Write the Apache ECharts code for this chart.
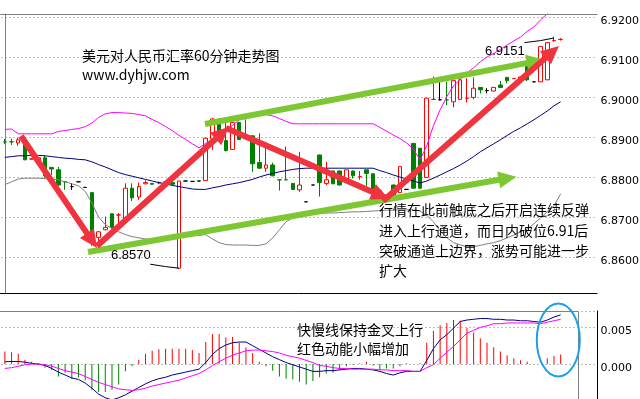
<!DOCTYPE html>
<html><head><meta charset="utf-8">
<script src="https://cdn.jsdelivr.net/npm/echarts@6/dist/echarts.min.js"></script>
<style>html,body{margin:0;padding:0;background:#fff}#c{width:640px;height:399px}</style>
</head><body><div id="c"></div>
<script>
// ---------- data ----------
const slotCount = 89;
const slots = Array.from({length: slotCount}, (_, i) => 'H' + i);

// [open, close, low, high]
const ohlc = [
 [6.8888,6.8888,6.8882,6.8895],[6.8888,6.8888,6.8880,6.8896],[6.8885,6.8893,6.8878,6.8898],[6.8885,6.8843,6.8842,6.8888],
 [6.8845,6.8845,6.8844,6.8846],[6.8843,6.8848,6.8840,6.8850],[6.8848,6.8803,6.8798,6.8855],[6.8824,6.8820,6.8805,6.8825],
 [6.8818,6.8780,6.8778,6.8825],[6.8788,6.8788,6.8768,6.8790],[6.8776,6.8776,6.8768,6.8785],[6.8788,6.8788,6.8788,6.8788],
 [6.8774,6.8774,6.8774,6.8774],[6.8761,6.8648,6.8628,6.8761],[6.8649,6.8663,6.8630,6.8665],[6.8668,6.8674,6.8667,6.8701],
 [6.8708,6.8674,6.8672,6.8709],[6.8705,6.8705,6.8670,6.8710],[6.8688,6.8772,6.8685,6.8784],[6.8772,6.8748,6.8740,6.8784],
 [6.8750,6.8776,6.8743,6.8786],[6.8783,6.8786,6.8782,6.8792],[6.8784,6.8782,6.8781,6.8785],[6.8785,6.8786,6.8782,6.8789],
 [6.8788,6.8780,6.8779,6.8789],[6.8786,6.8782,6.8780,6.8788],[6.8572,6.8790,6.8570,6.8790],[6.8790,6.8790,6.8790,6.8790],
 [6.8789,6.8789,6.8789,6.8789],[6.8790,6.8790,6.8790,6.8790],[6.8791,6.8897,6.8790,6.8898],[6.8895,6.8945,6.8868,6.8948],
 [6.8938,6.8909,6.8905,6.8947],[6.8891,6.8866,6.8864,6.8938],[6.8869,6.8936,6.8868,6.8938],[6.8936,6.8894,6.8893,6.8938],
 [6.8903,6.8903,6.8900,6.8944],[6.8903,6.8833,6.8813,6.8903],[6.8836,6.8822,6.8821,6.8909],[6.8822,6.8830,6.8813,6.8888],
 [6.8830,6.8803,6.8802,6.8836],[6.8793,6.8793,6.8766,6.8793],[6.8793,6.8793,6.8792,6.8876],[6.8784,6.8769,6.8768,6.8785],
 [6.8768,6.8780,6.8763,6.8863],[6.8738,6.8738,6.8738,6.8738],[6.8780,6.8780,6.8780,6.8780],[6.8855,6.8786,6.8751,6.8856],
 [6.8784,6.8793,6.8780,6.8838],[6.8815,6.8783,6.8782,6.8816],[6.8815,6.8780,6.8779,6.8816],[6.8788,6.8818,6.8788,6.8818],
 [6.8815,6.8803,6.8796,6.8816],[6.8801,6.8801,6.8793,6.8815],[6.8818,6.8809,6.8778,6.8818],[6.8808,6.8765,6.8763,6.8809],
 [6.8766,6.8755,6.8754,6.8767],[6.8755,6.8750,6.8745,6.8757],[6.8780,6.8753,6.8751,6.8781],[6.8761,6.8826,6.8760,6.8826],
 [6.8769,6.8769,6.8769,6.8769],[6.8884,6.8772,6.8771,6.8885],[6.8872,6.8772,6.8771,6.8872],[6.8799,6.8997,6.8798,6.8998],
 [6.8994,6.8994,6.8993,6.9051],[6.8993,6.8993,6.8992,6.9038],[6.8993,6.8993,6.8980,6.9038],[6.8988,6.9041,6.8974,6.9041],
 [6.8994,6.9043,6.8993,6.9050],[6.8997,6.8997,6.8986,6.9047],[6.8999,6.9022,6.8994,6.9049],[6.9024,6.9018,6.9009,6.9025],
 [6.9016,6.9016,6.9009,6.9022],[6.9015,6.9024,6.9014,6.9025],[6.9030,6.9024,6.9024,6.9040],[6.9049,6.9041,6.9034,6.9050],
 [6.9046,6.9046,6.9046,6.9046],[6.9045,6.9050,6.9044,6.9052],[6.9076,6.9043,6.9040,6.9078],[6.9038,6.9038,6.9038,6.9038],
 [6.9038,6.9126,6.9038,6.9127],[6.9043,6.9136,6.9042,6.9137],[6.9141,6.9141,6.9138,6.9151],[6.9144,6.9144,6.9141,6.9147]
];
// colour of doji (open == close) candles: g green, r red, k black
const dojiKind = {0:'g',1:'g',4:'r',9:'g',10:'k',11:'k',12:'k',17:'r',27:'k',28:'k',29:'k',36:'r',41:'g',42:'g',
  45:'k',46:'k',53:'r',60:'k',64:'g',65:'k',66:'g',69:'r',72:'k',76:'r',79:'k',82:'r',83:'r'};

const upperBand = [
 6.8919,6.8920,6.8908,6.8908,6.8908,6.8908,6.8908,6.8908,6.8914,6.8916,
 6.8919,6.8921,6.8926,6.8935,6.8949,6.8958,6.8961,6.8961,6.8960,6.8959,
 6.8956,6.8953,6.8944,6.8936,6.8926,6.8916,6.8904,6.8894,6.8883,6.8873,
 6.8884,6.8895,6.8905,6.8915,6.8929,6.8943,6.8953,6.8959,6.8958,6.8956,
 6.8953,6.8946,6.8939,6.8933,6.8933,6.8933,6.8933,6.8933,6.8933,6.8933,
 6.8933,6.8933,6.8933,6.8933,6.8933,6.8933,6.8924,6.8915,6.8905,6.8896,
 6.8885,6.8870,6.8843,6.8878,6.8928,6.8968,6.9001,6.9028,6.9044,6.9060,
 6.9073,6.9088,6.9100,6.9109,6.9119,6.9130,6.9140,6.9150,6.9164,6.9175,
 6.9193,6.9208,6.9223,6.9238];
const middleBand = [
 6.8849,6.8851,6.8853,6.8853,6.8854,6.8854,6.8853,6.8851,6.8849,6.8847,
 6.8846,6.8844,6.8843,6.8838,6.8831,6.8825,6.8818,6.8811,6.8806,6.8802,
 6.8798,6.8794,6.8790,6.8786,6.8783,6.8779,6.8776,6.8773,6.8770,6.8769,
 6.8769,6.8773,6.8776,6.8780,6.8783,6.8786,6.8790,6.8794,6.8800,6.8805,
 6.8809,6.8813,6.8816,6.8819,6.8821,6.8822,6.8822,6.8822,6.8822,6.8822,
 6.8822,6.8822,6.8822,6.8822,6.8822,6.8822,6.8816,6.8811,6.8805,6.8800,
 6.8795,6.8790,6.8785,6.8790,6.8797,6.8805,6.8813,6.8821,6.8830,6.8840,
 6.8851,6.8863,6.8873,6.8883,6.8893,6.8904,6.8914,6.8923,6.8933,6.8943,
 6.8954,6.8965,6.8978,6.8988];
const lowerBand = [
 6.8781,6.8788,6.8795,6.8797,6.8797,6.8797,6.8796,6.8795,6.8793,6.8788,
 6.8783,6.8778,6.8764,6.8735,6.8700,6.8681,6.8671,6.8663,6.8656,6.8651,
 6.8648,6.8645,6.8644,6.8645,6.8646,6.8648,6.8650,6.8651,6.8653,6.8654,
 6.8656,6.8645,6.8636,6.8631,6.8630,6.8630,6.8630,6.8629,6.8629,6.8633,
 6.8648,6.8668,6.8688,6.8698,6.8704,6.8709,6.8709,6.8709,6.8710,6.8710,
 6.8711,6.8712,6.8713,6.8713,6.8714,6.8715,6.8716,6.8717,6.8717,6.8718,
 6.8718,6.8718,6.8715,6.8704,6.8688,6.8665,6.8648,6.8636,6.8630,6.8626,
 6.8626,6.8629,6.8633,6.8636,6.8641,6.8648,6.8655,6.8663,6.8670,6.8683,
 6.8698,6.8713,6.8728,6.8758];

const macdLine = [
 0.0003,0.00035,0.00035,0.00025,0.0001,0,-0.0002,-0.0006,-0.0011,-0.0015,
 -0.0019,-0.0021,-0.0026,-0.0033,-0.0041,-0.0046,-0.0049,-0.0046,-0.0042,-0.0037,
 -0.0032,-0.0027,-0.0023,-0.002,-0.0018,-0.0015,-0.0013,-0.0011,-0.0009,-0.0007,
 0.0002,0.0013,0.0021,0.0026,0.0029,0.003,0.003,0.0025,0.002,0.0015,
 0.001,0.0006,0.0002,-0.0001,-0.0004,-0.0007,-0.001,-0.001,-0.0009,-0.0009,
 -0.0008,-0.0007,-0.0006,-0.0006,-0.0007,-0.0008,-0.001,-0.0013,-0.0015,-0.0012,
 -0.001,-0.001,-0.001,0.0005,0.0021,0.0033,0.004,0.0049,0.0058,0.006,
 0.0061,0.0062,0.0062,0.0061,0.0061,0.006,0.006,0.0059,0.0059,0.0058,
 0.0057,0.006,0.0064,0.0067];
const signalLine = [
 -0.0006,-0.0005,-0.0003,-0.0001,0,0,-0.0001,-0.0003,-0.0006,-0.0009,
 -0.0011,-0.0013,-0.0017,-0.0021,-0.0025,-0.0028,-0.0031,-0.0034,-0.0035,-0.0036,
 -0.0035,-0.0033,-0.003,-0.0028,-0.0026,-0.0024,-0.0022,-0.0019,-0.0016,-0.0013,
 -0.0008,-0.0002,0.0003,0.0008,0.0012,0.0015,0.0018,0.0019,0.0019,0.0018,
 0.0017,0.0015,0.0012,0.001,0.0008,0.0005,0.0002,-0.0002,-0.0003,-0.0005,
 -0.0006,-0.0006,-0.0007,-0.0007,-0.0007,-0.0007,-0.0008,-0.0008,-0.0009,-0.0009,
 -0.0009,-0.001,-0.001,-0.0005,-0.0001,0.0008,0.0016,0.0024,0.0033,0.0042,
 0.0046,0.005,0.0052,0.0055,0.0055,0.0056,0.0056,0.0056,0.0056,0.0056,
 0.0055,0.0057,0.0059,0.0061];
const macdHist = [
 0.0017,0.0016,0.0014,0.0006,0.0003,-0.0001,-0.0005,-0.0008,-0.0017,-0.0012,
 -0.002,-0.0018,-0.0022,-0.0035,-0.0038,-0.0038,-0.0035,-0.0028,-0.001,-0.0003,
 0.0006,0.0014,0.0018,0.002,0.0021,0.0021,0.0021,0.0021,0.0019,0.0015,
 0.003,0.0041,0.0041,0.0036,0.0037,0.0029,0.0023,0.0015,0.0003,-0.0003,
 -0.0009,-0.0017,-0.002,-0.0021,-0.0024,-0.0028,-0.0023,-0.0018,-0.0013,-0.0012,
 -0.0008,-0.0003,-0.0001,0.0001,0.0003,-0.0002,-0.0008,-0.0006,-0.0006,-0.0003,
 0.0001,0,0.0001,0.0029,0.0045,0.0053,0.0056,0.006,0.0059,0.0049,
 0.0043,0.0035,0.0029,0.0023,0.0017,0.0012,0.0008,0.0005,0.0003,0,
 0,0.0008,0.0011,0.0013];

// swing low / high connector lines  [slot, price]
const swingLowLine = [[21.7,6.8582],[24,6.8576],[26,6.8572]];
const swingHighLine = [[77.6,6.9136],[80,6.9141],[82,6.91475]];
const lowLabel = '6.8570', highLabel = '6.9151';

// trend arrows: [slotFrom, priceFrom, slotTo, priceTo]
const redArrows = [
 [2.41,6.89025,13.01,6.8641],
 [13.76,6.86275,32.47,6.8910],
 [33.02,6.89225,56.12,6.8754],
 [56.47,6.8740,81.73,6.91125]
];
const greenArrows = [
 [29.89,6.89325,79.25,6.9089],
 [12.42,6.86125,75.07,6.87968]
];

const mainTicks = [6.86,6.87,6.88,6.89,6.90,6.91,6.92];

// ---------- chart ----------
const chart = echarts.init(document.getElementById('c'), null, {renderer:'canvas'});
const COL = {g:'#008000', r:'#ff0000', k:'#000000'};
const candleData = ohlc.map((v,i) => {
  const k = dojiKind[i];
  if (!k) return v;
  const c = COL[k];
  return {value:v, itemStyle:{borderColor:c, borderColor0:c, borderColorDoji:c, color:c, color0:c}};
});
const GL = 1.5, GW = 596;
const mkArrows = (list, color, head) => list.map(a => [
  {coord:[a[0],a[1]], lineStyle:{color:color, width:6, type:'solid'}, itemStyle:{color:color}},
  {coord:[a[2],a[3]]}
]);
const font = '"Noto Sans CJK SC", "Noto Sans", sans-serif';
const textEl = (x, y, t, size, fam) => ({type:'text', z:50, style:{x:x, y:y, text:t, fill:'#000',
  font: size + 'px ' + (fam || font), textVerticalAlign:'middle', verticalAlign:'middle'}});

chart.setOption({
  animation:false,
  backgroundColor:'#fff',
  grid:[
    {left:GL, top:14, width:GW, height:283, containLabel:false, outerBoundsMode:'none'},
    {left:GL, top:311, width:GW, height:89.7, containLabel:false, outerBoundsMode:'none'}
  ],
  xAxis:[
    {type:'category', gridIndex:0, data:slots, boundaryGap:true, axisLine:{show:false}, axisTick:{show:false}, axisLabel:{show:false}, splitLine:{show:false}},
    {type:'category', gridIndex:1, data:slots, boundaryGap:true, axisLine:{show:false}, axisTick:{show:false}, axisLabel:{show:false}, splitLine:{show:false}},
    {type:'value', gridIndex:0, min:-0.5, max:slotCount-0.5, show:false, splitLine:{show:false}}
  ],
  yAxis:[
    {type:'value', gridIndex:0, position:'right', min:6.85, max:6.92075, interval:0.01, scale:true,
     axisLine:{show:true, lineStyle:{color:'#808080', width:1}}, axisTick:{show:false},
     axisLabel:{showMinLabel:false, showMaxLabel:false, margin:3, color:'#000', fontSize:11, fontFamily:'DejaVu Sans',
       verticalAlign:'top', lineHeight:8, formatter:v => v.toFixed(4)},
     splitLine:{show:true, lineStyle:{color:'#808080', type:[1,3], width:1}}},
    {type:'value', gridIndex:1, position:'right', min:-0.005, max:0.00723, interval:0.005,
     axisLine:{show:true, lineStyle:{color:'#000', width:1}}, axisTick:{show:false},
     axisLabel:{showMinLabel:false, showMaxLabel:false, margin:3, color:'#000', fontSize:11, fontFamily:'DejaVu Sans',
       verticalAlign:'top', lineHeight:8, formatter:v => v.toFixed(3)},
     splitLine:{show:true, lineStyle:{color:'#808080', type:[1,3], width:1}}}
  ],
  series:[
    {type:'candlestick', xAxisIndex:0, yAxisIndex:0, data:candleData, barWidth:4, z:3,
     itemStyle:{color:'#ffffff', color0:'#008000', borderColor:'#ff0000', borderColor0:'#008000', borderColorDoji:'#000', borderWidth:1}},
    {type:'line', xAxisIndex:0, yAxisIndex:0, data:upperBand, symbol:'none', z:4, lineStyle:{color:'#ff00ff', width:1}},
    {type:'line', xAxisIndex:0, yAxisIndex:0, data:middleBand, symbol:'none', z:4, lineStyle:{color:'#000080', width:1}},
    {type:'line', xAxisIndex:0, yAxisIndex:0, data:lowerBand, symbol:'none', z:4, lineStyle:{color:'#808080', width:1}},
    {type:'line', xAxisIndex:2, yAxisIndex:0, data:swingLowLine, symbol:'none', z:4, lineStyle:{color:'#000', width:1}},
    {type:'line', xAxisIndex:2, yAxisIndex:0, data:swingHighLine, symbol:'none', z:4, lineStyle:{color:'#000', width:1}},
    {type:'line', xAxisIndex:2, yAxisIndex:0, data:[], z:10,
     markLine:{silent:true, animation:false, symbol:['none','triangle'], symbolSize:[17,18], label:{show:false},
       emphasis:{disabled:true},
       data: mkArrows(greenArrows, '#7dc832').concat(mkArrows(redArrows, '#f0343f'))}},
    {type:'bar', xAxisIndex:1, yAxisIndex:1, data:macdHist, barWidth:1, z:3,
     itemStyle:{color: p => p.value >= 0 ? '#ff0000' : '#008000'}},
    {type:'line', xAxisIndex:1, yAxisIndex:1, data:macdLine, symbol:'none', z:4, lineStyle:{color:'#000080', width:1}},
    {type:'line', xAxisIndex:1, yAxisIndex:1, data:signalLine, symbol:'none', z:4, lineStyle:{color:'#ff00ff', width:1}}
  ],
  graphic:[
    {type:'rect', z:40, shape:{x:0, y:294, width:596, height:16.5}, style:{fill:'#fff'}},
    {type:'line', z:41, shape:{x1:0, y1:14.5, x2:597.5, y2:14.5}, style:{stroke:'#808080', lineWidth:1}},
    {type:'line', z:41, shape:{x1:0, y1:293.5, x2:597.5, y2:293.5}, style:{stroke:'#000', lineWidth:1}},
    {type:'line', z:41, shape:{x1:0, y1:311.5, x2:578.5, y2:311.5}, style:{stroke:'#808080', lineWidth:1}},
    {type:'line', z:41, shape:{x1:578.5, y1:311.5, x2:578.5, y2:399}, style:{stroke:'#808080', lineWidth:1}},
    textEl(82, 56, '美元对人民币汇率60分钟走势图', 14),
    textEl(82, 75, 'www.dyhjw.com', 14),
    textEl(485, 51, highLabel, 13, '"Liberation Sans", Arial, sans-serif'),
    textEl(111, 255.5, lowLabel, 13, '"Liberation Sans", Arial, sans-serif'),
    textEl(379, 210, '行情在此前触底之后开启连续反弹', 14),
    textEl(379, 230.5, '进入上行通道，而日内破位6.91后', 14),
    textEl(379, 250.5, '突破通道上边界，涨势可能进一步', 14),
    textEl(379, 271, '扩大', 14),
    textEl(297, 329.5, '快慢线保持金叉上行', 14),
    textEl(297, 349, '红色动能小幅增加', 14),
    {type:'ellipse', z:45, shape:{cx:558.3, cy:340, rx:21.5, ry:36.5}, style:{fill:'none', stroke:'#1f9fe5', lineWidth:2}}
  ]
});
</script></body></html>
